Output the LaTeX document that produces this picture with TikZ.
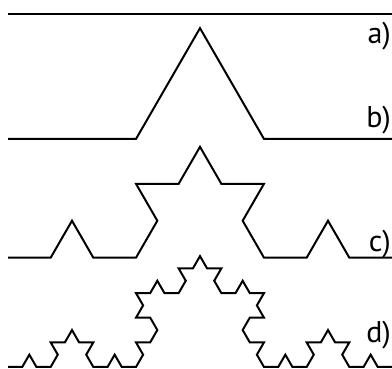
\documentclass[tikz,border=0pt]{standalone}
\usepackage{fontspec}
\setmainfont{PT Sans}
\newcommand\lblfont{\fontsize{30}{34}\selectfont}
\tikzset{
  kochline/.style={line width=2pt, black, line join=miter},
  lbl/.style={anchor=base east, inner sep=0pt}
}
\makeatletter
\gdef\kochacc{}
\def\kochbuild#1#2#3{%
  \ifnum#1=0
    \xdef\kochacc{\kochacc -- ++(#2:#3pt)}%
  \else
    \begingroup
    \pgfmathtruncatemacro\ko{#1-1}%
    \pgfmathsetmacro\kl{#3/3}%
    \pgfmathsetmacro\kaa{#2+60}%
    \pgfmathsetmacro\kab{#2-60}%
    \edef\next{%
      \noexpand\kochbuild{\ko}{#2}{\kl}%
      \noexpand\kochbuild{\ko}{\kaa}{\kl}%
      \noexpand\kochbuild{\ko}{\kab}{\kl}%
      \noexpand\kochbuild{\ko}{#2}{\kl}}%
    \next
    \endgroup
  \fi}
\newcommand\kochdraw[3]{% start coordinate, order, length
  \gdef\kochacc{}%
  \kochbuild{#2}{0}{#3}%
  \edef\kochtmp{\noexpand\draw[kochline] (#1) \kochacc;}%
  \kochtmp}
\makeatother
\begin{document}
\begin{tikzpicture}[x=1pt,y=1pt]
\useasboundingbox (0,0) rectangle (392,369);
\coordinate (a0) at (8,355);
\coordinate (a1) at (392,355);
\coordinate (b0) at (8,230);
\coordinate (c0) at (8,111.3);
\coordinate (d0) at (8,2);
\draw[kochline] (a0) -- (a1);
\kochdraw{b0}{1}{384}
\kochdraw{c0}{2}{384}
\kochdraw{d0}{3}{384}
\node[lbl] (la) at (391,325) {\lblfont a)};
\node[lbl] (lb) at (391,241) {\lblfont b)};
\node[lbl] (lc) at (391,117) {\lblfont c)};
\node[lbl] (ld) at (391,26) {\lblfont d)};
\end{tikzpicture}
\end{document}
